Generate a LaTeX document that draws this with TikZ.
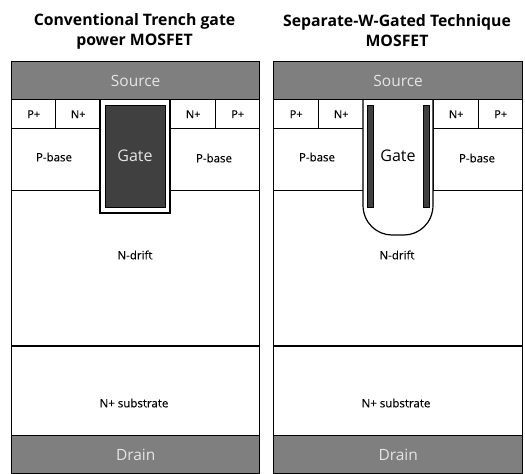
\documentclass[tikz,border=0pt]{standalone}
\usepackage{xcolor}
\usepackage{fontspec}
\setmainfont{Open Sans}
\newfontfamily\labelfont[FakeBold=0.25]{Open Sans}
\usetikzlibrary{positioning}
\definecolor{MetalGray}{HTML}{7F7F7F}
\definecolor{GateDark}{HTML}{404040}
\tikzset{
  metalbox/.style={draw=black,fill=MetalGray,line width=1.4pt,anchor=north west,inner sep=0pt,
    font=\fontsize{15.5}{17}\selectfont\color{white!90!black}},
  regionbox/.style={draw=black,fill=white,line width=1.4pt,anchor=north west,inner sep=0pt,
    font=\labelfont\fontsize{11}{13}\selectfont\color{black}},
  plainlabel/.style={font=\labelfont\fontsize{11.5}{13}\selectfont},
  oxide/.style={draw=black,fill=white,line width=1.2pt},
  gatefill/.style={draw=black,fill=GateDark,line width=1pt},
  gatelabel/.style={font=\fontsize{16}{18}\selectfont},
  titlelabel/.style={font=\fontsize{15.8}{20}\selectfont\bfseries,align=center},
}
\begin{document}
\begin{tikzpicture}[x=1pt,y=-1pt]
  \useasboundingbox (0,0) rectangle (525,474);
  % left device
  \node[titlelabel] (title1) at (134.5,31) {Conventional Trench gate\\power MOSFET};
  \node[regionbox,minimum width=248pt,minimum height=155pt] (drift1) at (11,190) {};
  \node[regionbox,minimum width=248pt,minimum height=89pt] (sub1) at (11,346) {};
  \node[plainlabel] (sublabel1) at (134,403) {N+ substrate};
  \node[regionbox,minimum width=44pt,minimum height=29pt] (pp1) at (11,99) {P+};
  \node[regionbox,minimum width=45pt,minimum height=29pt] (np1) at (55,99) {N+};
  \node[regionbox,minimum width=45pt,minimum height=29pt] (np2) at (170,99) {N+};
  \node[regionbox,minimum width=44pt,minimum height=29pt] (pp2) at (215,99) {P+};
  \node[regionbox,minimum width=89pt,minimum height=62pt] (base1) at (11,128) {};
  \node[regionbox,minimum width=89pt,minimum height=62pt] (base2) at (170,128) {};
  \node[plainlabel] (baselabel1) at (54,157) {P-base};
  \node[plainlabel] (baselabel2) at (214,158) {P-base};
  \node[plainlabel] (driftlabel1) at (135,255) {N-drift};
  \draw[oxide] (100,99) rectangle (170,213);
  \draw[gatefill] (105,105.5) rectangle (165.5,207);
  \node[gatelabel,text=white!90!black] (gate1) at (135,156) {Gate};
  \node[metalbox,minimum width=248pt,minimum height=38pt] (source1) at (11,61) {Source};
  \node[metalbox,minimum width=248pt,minimum height=38pt] (drain1) at (11,435) {Drain};
  % right device
  \node[titlelabel] (title2) at (397,31) {Separate-W-Gated Technique\\MOSFET};
  \node[regionbox,minimum width=249pt,minimum height=155pt] (drift2) at (273,190) {};
  \node[regionbox,minimum width=249pt,minimum height=89pt] (sub2) at (273,346) {};
  \node[plainlabel] (sublabel2) at (396,403) {N+ substrate};
  \node[regionbox,minimum width=45pt,minimum height=29pt] (pp3) at (273,99) {P+};
  \node[regionbox,minimum width=45pt,minimum height=29pt] (np3) at (318,99) {N+};
  \node[regionbox,minimum width=45pt,minimum height=29pt] (np4) at (433,99) {N+};
  \node[regionbox,minimum width=44pt,minimum height=29pt] (pp4) at (478,99) {P+};
  \node[regionbox,minimum width=90pt,minimum height=62pt] (base3) at (273,128) {};
  \node[regionbox,minimum width=89pt,minimum height=62pt] (base4) at (433,128) {};
  \node[plainlabel] (baselabel3) at (317,157) {P-base};
  \node[plainlabel] (baselabel4) at (477,158) {P-base};
  \node[plainlabel] (driftlabel2) at (397,255) {N-drift};
  \draw[oxide] (363,99) -- (363,205) .. controls (363,223) and (377,235) .. (392,235)
    -- (404,235) .. controls (419,235) and (433,223) .. (433,205) -- (433,99);
  \draw[gatefill] (367,105) rectangle (373,207);
  \draw[gatefill] (423,105) rectangle (429,207);
  \node[gatelabel] (gate2) at (398,156) {Gate};
  \node[metalbox,minimum width=249pt,minimum height=38pt] (source2) at (273,61) {Source};
  \node[metalbox,minimum width=249pt,minimum height=38pt] (drain2) at (273,435) {Drain};
\end{tikzpicture}
\end{document}
